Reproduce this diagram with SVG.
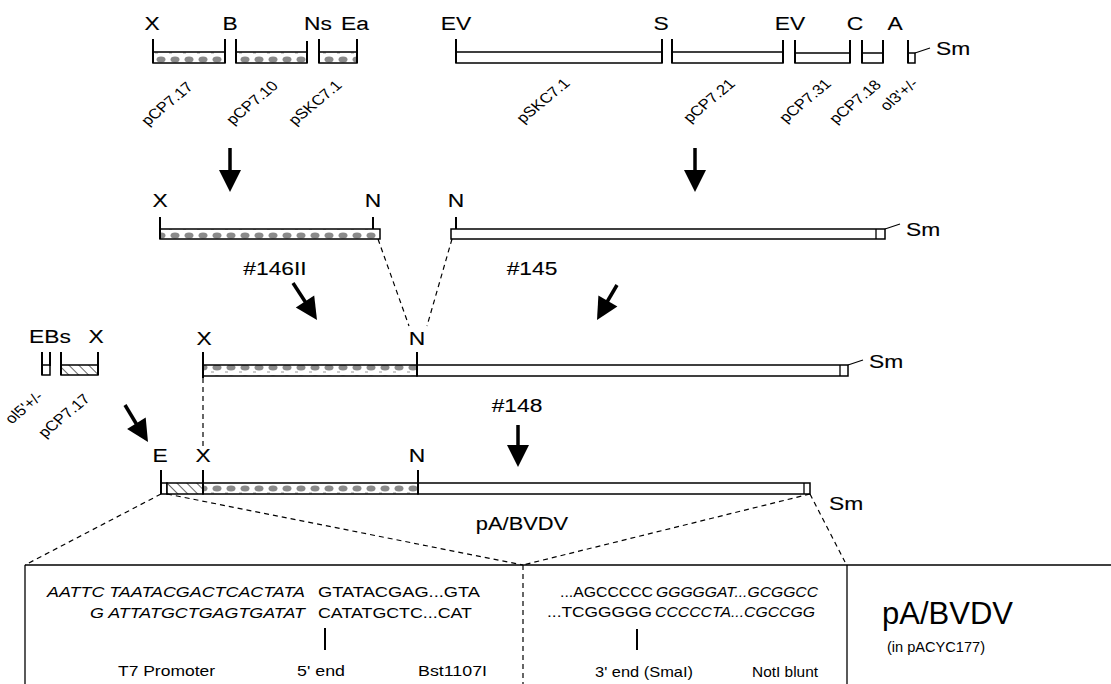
<svg xmlns="http://www.w3.org/2000/svg" width="1111" height="684" viewBox="0 0 1111 684">
<defs>
<style>
text{font-family:"Liberation Sans",Arial,Helvetica,sans-serif;fill:#000}
.lb{font-size:19px;text-anchor:middle;stroke:#000;stroke-width:0.12}
.ls{font-size:19px;stroke:#000;stroke-width:0.12}
.rt{font-size:14px;text-anchor:middle}
.sq{font-size:15px}
.it{font-style:italic}
.tk{stroke:#000;stroke-width:2;fill:none}
.ln{stroke:#000;stroke-width:1.3;fill:none}
.wb{fill:#fff;stroke:#000;stroke-width:1.5}
.sb{fill:url(#stip);stroke:#000;stroke-width:1.5}
.hb{fill:url(#hatch);stroke:#000;stroke-width:1.5}
.ds{stroke:#000;stroke-width:1.2;stroke-dasharray:5 4;fill:none}
.ar{stroke:#000;stroke-width:3.5;fill:none}
.ah{fill:#000}
</style>
<pattern id="stip" patternUnits="userSpaceOnUse" width="14" height="11">
<rect width="14" height="11" fill="#fff"/>
<ellipse cx="7" cy="4.5" rx="4.5" ry="3" fill="#8a8a8a"/>
<rect x="1" y="8.5" width="3" height="1" fill="#999"/>
</pattern>
<pattern id="hatch" patternUnits="userSpaceOnUse" width="7" height="7" patternTransform="rotate(-45)">
<rect width="7" height="7" fill="#fff"/>
<line x1="0" y1="0" x2="0" y2="7" stroke="#000" stroke-width="1.2"/>
</pattern>
</defs>

<!-- Row 1 fragments -->
<g id="r1-labels">
<text class="lb" transform="matrix(1.2 0 0 1 152 30)">X</text>
<text class="lb" transform="matrix(1.2 0 0 1 230 30)">B</text>
<text class="lb" transform="matrix(1.2 0 0 1 318 30)">Ns</text>
<text class="lb" transform="matrix(1.2 0 0 1 355 30)">Ea</text>
<text class="lb" transform="matrix(1.2 0 0 1 456 30)">EV</text>
<text class="lb" transform="matrix(1.2 0 0 1 661 30)">S</text>
<text class="lb" transform="matrix(1.2 0 0 1 790 30)">EV</text>
<text class="lb" transform="matrix(1.2 0 0 1 855 30)">C</text>
<text class="lb" transform="matrix(1.2 0 0 1 895 30)">A</text>
</g>
<g id="f-pCP7-17">
<rect class="sb" x="153" y="52" width="72" height="11"/>
<line class="tk" x1="153" y1="39" x2="153" y2="63"/><line class="tk" x1="225" y1="39" x2="225" y2="63"/>
<text class="rt" transform="translate(171 107) scale(1.2 1) rotate(-45)">pCP7.17</text>
</g>
<g id="f-pCP7-10">
<rect class="sb" x="236" y="52" width="71" height="11"/>
<line class="tk" x1="236" y1="39" x2="236" y2="63"/><line class="tk" x1="307" y1="41" x2="307" y2="63"/>
<text class="rt" transform="translate(256 106) scale(1.2 1) rotate(-45)">pCP7.10</text>
</g>
<g id="f-pSKC7-1a">
<rect class="sb" x="319" y="52" width="38" height="11"/>
<line class="tk" x1="319" y1="39" x2="319" y2="63"/><line class="tk" x1="357" y1="39" x2="357" y2="63"/>
<text class="rt" transform="translate(319 106) scale(1.2 1) rotate(-45)">pSKC7.1</text>
</g>
<g id="f-pSKC7-1b">
<rect class="wb" x="456" y="52" width="206" height="11"/>
<line class="tk" x1="456" y1="39" x2="456" y2="63"/><line class="tk" x1="662" y1="39" x2="662" y2="63"/>
<text class="rt" transform="translate(547 104) scale(1.2 1) rotate(-45)">pSKC7.1</text>
</g>
<g id="f-pCP7-21">
<rect class="wb" x="672" y="52" width="111" height="11"/>
<line class="tk" x1="672" y1="39" x2="672" y2="63"/><line class="tk" x1="783" y1="40" x2="783" y2="63"/>
<text class="rt" transform="translate(713 104) scale(1.2 1) rotate(-45)">pCP7.21</text>
</g>
<g id="f-pCP7-31">
<rect class="wb" x="795" y="53" width="55" height="10"/>
<line class="tk" x1="795" y1="40" x2="795" y2="63"/><line class="tk" x1="850" y1="40" x2="850" y2="63"/>
<text class="rt" transform="translate(809 104) scale(1.2 1) rotate(-45)">pCP7.31</text>
</g>
<g id="f-pCP7-18">
<rect class="wb" x="862" y="53" width="21" height="10"/>
<line class="tk" x1="862" y1="40" x2="862" y2="63"/><line class="tk" x1="883" y1="40" x2="883" y2="63"/>
<text class="rt" transform="translate(859 105) scale(1.2 1) rotate(-45)">pCP7.18</text>
</g>
<g id="f-ol3">
<rect class="wb" x="908" y="53" width="7" height="10"/>
<line class="tk" x1="908" y1="40" x2="908" y2="63"/>
<line class="ln" x1="915" y1="53" x2="930" y2="48"/>
<text class="ls" transform="matrix(1.2 0 0 1 936 55)">Sm</text>
<text class="rt" transform="translate(903 98) scale(1.2 1) rotate(-45)">ol3'+/-</text>
</g>

<!-- Row 2 -->
<g id="c146II">
<rect class="sb" x="160" y="229" width="220" height="10"/>
<line class="tk" x1="160" y1="217" x2="160" y2="239"/><line class="tk" x1="373" y1="217" x2="373" y2="229"/>
<text class="lb" transform="matrix(1.2 0 0 1 160 207)">X</text>
<text class="lb" transform="matrix(1.2 0 0 1 373 207)">N</text>
</g>
<g id="c145">
<rect class="wb" x="451" y="229" width="434" height="10"/>
<line class="ln" x1="876" y1="229" x2="876" y2="239"/>
<line class="tk" x1="456" y1="217" x2="456" y2="229"/>
<line class="ln" x1="885" y1="229" x2="900" y2="224"/>
<text class="lb" transform="matrix(1.2 0 0 1 456 207)">N</text>
<text class="ls" transform="matrix(1.2 0 0 1 906 236)">Sm</text>
</g>
<g id="lbl-146II"><text class="lb" transform="matrix(1.2 0 0 1 275 275)">#146II</text></g>
<g id="lbl-145"><text class="lb" transform="matrix(1.2 0 0 1 532 275)">#145</text></g>

<!-- Row 3 -->
<g id="c148">
<rect class="sb" x="203" y="365" width="214" height="11"/>
<rect class="wb" x="417" y="365" width="431" height="11"/>
<line class="ln" x1="840" y1="365" x2="840" y2="376"/>
<line class="tk" x1="203" y1="352" x2="203" y2="378"/><line class="tk" x1="417" y1="352" x2="417" y2="376"/>
<text class="lb" transform="matrix(1.2 0 0 1 204 345)">X</text>
<text class="lb" transform="matrix(1.2 0 0 1 417 345)">N</text>
<line class="ln" x1="848" y1="365" x2="863" y2="360"/>
<text class="ls" transform="matrix(1.2 0 0 1 869 368)">Sm</text>
</g>
<g id="f-ol5">
<rect class="wb" x="42" y="365" width="8" height="10"/>
<line class="tk" x1="42" y1="352" x2="42" y2="375"/><line class="tk" x1="50" y1="352" x2="50" y2="366"/>
<text class="rt" transform="translate(28 411) scale(1.2 1) rotate(-45)">ol5'+/-</text>
</g>
<g id="f-pCP7-17b">
<rect class="hb" x="61" y="365" width="37" height="10"/>
<line class="tk" x1="61" y1="352" x2="61" y2="375"/><line class="tk" x1="98" y1="352" x2="98" y2="375"/>
<text class="rt" transform="translate(68 419) scale(1.2 1) rotate(-45)">pCP7.17</text>
</g>
<g id="lbl-EBsX">
<text class="lb" transform="matrix(1.2 0 0 1 50 343)">EBs</text>
<text class="lb" transform="matrix(1.2 0 0 1 96 343)">X</text>
</g>
<g id="lbl-148"><text class="lb" transform="matrix(1.2 0 0 1 517 412)">#148</text></g>

<!-- Row 4 -->
<g id="pABVDV">
<rect class="wb" x="161" y="483" width="6" height="11"/>
<rect class="hb" x="167" y="483" width="36" height="11"/>
<rect class="sb" x="203" y="483" width="215" height="11"/>
<rect class="wb" x="418" y="483" width="392" height="11"/>
<line class="ln" x1="804" y1="483" x2="804" y2="494"/>
<line class="tk" x1="161" y1="470" x2="161" y2="494"/>
<line class="tk" x1="203" y1="470" x2="203" y2="494"/>
<line class="tk" x1="418" y1="470" x2="418" y2="494"/>
<text class="lb" transform="matrix(1.2 0 0 1 160 462)">E</text>
<text class="lb" transform="matrix(1.2 0 0 1 203 462)">X</text>
<text class="lb" transform="matrix(1.2 0 0 1 417 462)">N</text>
<text class="ls" transform="matrix(1.2 0 0 1 829 510)">Sm</text>
<text class="lb" transform="matrix(1.15 0 0 1 522 530)">pA/BVDV</text>
</g>

<!-- Detail box -->
<g id="detail">
<line class="ln" x1="25" y1="565" x2="1111" y2="565" stroke-width="1.8"/>
<line class="ln" x1="25" y1="565" x2="25" y2="684" stroke-width="1.8"/>
<line class="ds" x1="523" y1="565" x2="523" y2="684" stroke-width="1.5"/>
<line class="ln" x1="847" y1="565" x2="847" y2="684" stroke-width="1.8"/>
<text class="sq it" x="47" y="597" textLength="258" lengthAdjust="spacingAndGlyphs">AATTC TAATACGACTCACTATA</text>
<text class="sq" x="318" y="597" textLength="162" lengthAdjust="spacingAndGlyphs">GTATACGAG...GTA</text>
<text class="sq it" x="90" y="618" textLength="215" lengthAdjust="spacingAndGlyphs">G ATTATGCTGAGTGATAT</text>
<text class="sq" x="318" y="618" textLength="154" lengthAdjust="spacingAndGlyphs">CATATGCTC...CAT</text>
<line class="tk" x1="325" y1="628" x2="325" y2="650"/>
<text class="sq" x="118" y="676" textLength="97" lengthAdjust="spacingAndGlyphs">T7 Promoter</text>
<text class="sq" x="297" y="676" textLength="48" lengthAdjust="spacingAndGlyphs">5' end</text>
<text class="sq" x="418" y="676" textLength="69" lengthAdjust="spacingAndGlyphs">Bst1107I</text>
<text class="sq" x="560" y="597" textLength="93" lengthAdjust="spacingAndGlyphs">...AGCCCCC</text>
<text class="sq it" x="656" y="597" textLength="162" lengthAdjust="spacingAndGlyphs">GGGGGAT...GCGGCC</text>
<text class="sq" x="547" y="617" textLength="105" lengthAdjust="spacingAndGlyphs">...TCGGGGG</text>
<text class="sq it" x="655" y="617" textLength="160" lengthAdjust="spacingAndGlyphs">CCCCCTA...CGCCGG</text>
<line class="tk" x1="637" y1="629" x2="637" y2="650"/>
<text class="sq" x="595" y="677" textLength="98" lengthAdjust="spacingAndGlyphs">3' end (SmaI)</text>
<text class="sq" x="752" y="677" textLength="66" lengthAdjust="spacingAndGlyphs">NotI blunt</text>
<text x="882" y="624" font-size="31" textLength="131" lengthAdjust="spacingAndGlyphs">pA/BVDV</text>
<text x="887" y="652" font-size="15" textLength="98" lengthAdjust="spacingAndGlyphs">(in pACYC177)</text>
</g>

<!-- Connectors -->
<g id="connectors">
<line class="ds" x1="378" y1="239" x2="409" y2="326"/>
<line class="ds" x1="452" y1="239" x2="427" y2="326"/>
<line class="ds" x1="203" y1="378" x2="203" y2="448"/>
<line class="ds" x1="161" y1="494" x2="25" y2="565"/>
<line class="ds" x1="167" y1="494" x2="523" y2="565"/>
<line class="ds" x1="810" y1="494" x2="523" y2="565"/>
<line class="ds" x1="810" y1="494" x2="845" y2="562"/>

<line class="ar" x1="230" y1="148" x2="230" y2="172"/>
<polygon class="ah" points="219,170 241,170 230,192"/>
<line class="ar" x1="695" y1="148" x2="695" y2="172"/>
<polygon class="ah" points="684,170 706,170 695,192"/>
<line class="ar" x1="293" y1="283" x2="306" y2="303"/>
<polygon class="ah" points="295.8,307.5 314.2,295.5 317,320"/>
<line class="ar" x1="617" y1="285" x2="607" y2="302"/>
<polygon class="ah" points="598.4,295.4 617.4,306.4 597,320"/>
<line class="ar" x1="125" y1="405" x2="137" y2="425"/>
<polygon class="ah" points="127.1,429.1 145.7,417.5 148,442"/>
<line class="ar" x1="518" y1="425" x2="518" y2="447"/>
<polygon class="ah" points="507,445 529,445 518,467"/>
</g>
</svg>
